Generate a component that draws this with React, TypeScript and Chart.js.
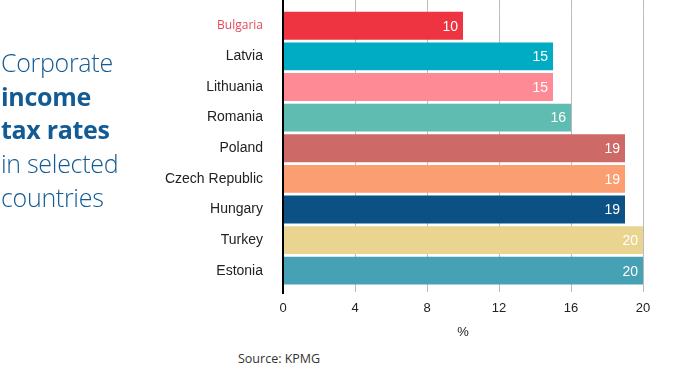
import React, { useEffect, useRef } from "react";
import { Chart, registerables } from "chart.js";

Chart.register(...registerables);

const categories = ["Bulgaria", "Latvia", "Lithuania", "Romania", "Poland", "Czech Republic", "Hungary", "Turkey", "Estonia"];
const rates = [10, 15, 15, 16, 19, 19, 19, 20, 20];
const barColors = ["#ee3440", "#00acc4", "#fe8a96", "#5ebcb0", "#cd6967", "#fb9e71", "#0b5183", "#ead590", "#45a1b3"];
const xMin = 0;
const xMax = 20;
const xStep = 4;
const xTitle = "%";
const sourceText = "Source: KPMG";

const CANVAS_SHIFT = 18;

const extrasPlugin = {
  id: "extras",
  beforeDatasetsDraw(chart: any) {
    const { ctx, chartArea, scales } = chart;
    const x = scales.x;
    ctx.save();
    ctx.strokeStyle = "#bbb";
    ctx.lineWidth = 1;
    for (let v = xMin + xStep; v <= xMax; v += xStep) {
      const px = Math.round(x.getPixelForValue(v)) + 0.5;
      ctx.beginPath();
      ctx.moveTo(px, CANVAS_SHIFT);
      ctx.lineTo(px, chartArea.top);
      ctx.stroke();
    }
    ctx.restore();
  },
  afterDatasetsDraw(chart: any) {
    const { ctx, chartArea, scales } = chart;
    const meta = chart.getDatasetMeta(0);
    ctx.save();
    ctx.fillStyle = "#ffffff";
    ctx.font = "14px 'Liberation Sans', Arial, sans-serif";
    ctx.textAlign = "right";
    ctx.textBaseline = "middle";
    meta.data.forEach((el: any, i: number) => {
      ctx.fillText(String(rates[i]), el.x - 5, el.y + 1);
    });
    const zx = scales.x.getPixelForValue(0);
    ctx.strokeStyle = "#000";
    ctx.lineWidth = 2;
    ctx.beginPath();
    ctx.moveTo(zx, CANVAS_SHIFT);
    ctx.lineTo(zx, chartArea.bottom + 8);
    ctx.stroke();
    ctx.restore();
  },
};

export default function App() {
  const canvasRef = useRef<HTMLCanvasElement | null>(null);

  useEffect(() => {
    document.body.style.margin = "0";
    const canvas = canvasRef.current;
    if (!canvas) return;
    const chart = new Chart(canvas, {
      type: "bar",
      data: {
        labels: categories,
        datasets: [
          {
            data: rates,
            backgroundColor: barColors,
            borderWidth: 0,
            barPercentage: 0.91,
            categoryPercentage: 1,
          },
        ],
      },
      options: {
        indexAxis: "y",
        animation: false,
        responsive: false,
        devicePixelRatio: 1,
        layout: { padding: { top: 10, right: 35, left: 0, bottom: 0 } },
        plugins: { legend: { display: false }, tooltip: { enabled: false } },
        scales: {
          x: {
            min: xMin,
            max: xMax,
            ticks: {
              stepSize: xStep,
              color: "#222",
              padding: 9,
              font: { family: "'Liberation Sans', Arial, sans-serif", size: 13 },
            },
            grid: {
              color: (c: any) => (c.tick && c.tick.value === 0 ? "rgba(0,0,0,0)" : "#bbb"),
              lineWidth: 1,
              tickLength: 6,
            },
            border: { display: false },
            title: {
              display: true,
              text: xTitle,
              color: "#222",
              font: { family: "'Liberation Sans', Arial, sans-serif", size: 13 },
              padding: { top: 0, bottom: 0 },
            },
            afterFit: (s: any) => {
              s.height = 54;
            },
          },
          y: {
            grid: { display: false, drawTicks: false },
            border: { display: false },
            ticks: {
              padding: 20,
              color: (c: any) => (c.index === 0 ? "#e8495a" : "#222"),
              font: (c: any) =>
                c.index === 0
                  ? { family: "'Open Sans', sans-serif", size: 12 }
                  : { family: "'Liberation Sans', Arial, sans-serif", size: 14 },
            },
            afterFit: (s: any) => {
              s.width = 283;
            },
          },
        },
      },
      plugins: [extrasPlugin],
    });
    return () => chart.destroy();
  }, []);

  const titleStyle: React.CSSProperties = {
    position: "absolute",
    left: 1,
    top: 46,
    fontFamily: "'Open Sans', sans-serif",
    fontSize: 25,
    lineHeight: "33.7px",
    color: "#135b95",
    fontWeight: 300,
    letterSpacing: "-0.3px",
  };

  return (
    <div style={{ position: "relative", width: 678, height: 391, background: "#fff", overflow: "hidden" }}>
      <canvas
        ref={canvasRef}
        width={678}
        height={340 + CANVAS_SHIFT}
        style={{ position: "absolute", left: 0, top: -CANVAS_SHIFT }}
      />
      <div style={titleStyle}>
        <div>Corporate</div>
        <div style={{ fontWeight: 700 }}>income</div>
        <div style={{ fontWeight: 700 }}>tax rates</div>
        <div>in selected</div>
        <div>countries</div>
      </div>
      <div
        style={{
          position: "absolute",
          left: 238,
          top: 350,
          fontFamily: "'Open Sans', sans-serif",
          fontSize: 12.5,
          color: "#333",
          whiteSpace: "nowrap",
        }}
      >
        {sourceText}
      </div>
    </div>
  );
}
